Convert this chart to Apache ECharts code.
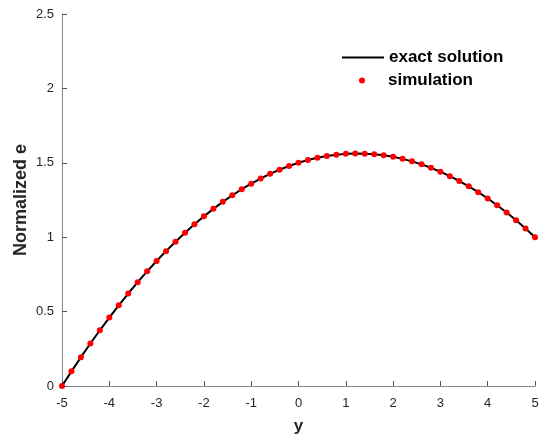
<!DOCTYPE html>
<html><head><meta charset="utf-8">
<script src="https://cdn.jsdelivr.net/npm/echarts@6/dist/echarts.min.js"></script>
<style>html,body{margin:0;padding:0;background:#fff}#c{width:540px;height:443px}</style>
</head><body><div id="c"></div>
<script>
var yPos = [-5,-4.8,-4.6,-4.4,-4.2,-4,-3.8,-3.6,-3.4,-3.2,-3,-2.8,-2.6,-2.4,-2.2,-2,-1.8,-1.6,-1.4,-1.2,-1,-0.8,-0.6,-0.4,-0.2,0,0.2,0.4,0.6,0.8,1,1.2,1.4,1.6,1.8,2,2.2,2.4,2.6,2.8,3,3.2,3.4,3.6,3.8,4,4.2,4.4,4.6,4.8,5];
var exactE = [0,0.0984,0.1936,0.2856,0.3744,0.46,0.5424,0.6216,0.6976,0.7704,0.84,0.9064,0.9696,1.0296,1.0864,1.14,1.1904,1.2376,1.2816,1.3224,1.36,1.3944,1.4256,1.4536,1.4784,1.5,1.5184,1.5336,1.5456,1.5544,1.56,1.5624,1.5616,1.5576,1.5504,1.54,1.5264,1.5096,1.4896,1.4664,1.44,1.4104,1.3776,1.3416,1.3024,1.26,1.2144,1.1656,1.1136,1.0584,1];
var simE = [0,0.0984,0.1936,0.2856,0.3744,0.46,0.5424,0.6216,0.6976,0.7704,0.84,0.9064,0.9696,1.0296,1.0864,1.14,1.1904,1.2376,1.2816,1.3224,1.36,1.3944,1.4256,1.4536,1.4784,1.5,1.5184,1.5336,1.5456,1.5544,1.56,1.5624,1.5616,1.5576,1.5504,1.54,1.5264,1.5096,1.4896,1.4664,1.44,1.4104,1.3776,1.3416,1.3024,1.26,1.2144,1.1656,1.1136,1.0584,1];
var xTicks = [-5,-4,-3,-2,-1,0,1,2,3,4,5];
var yTicks = [0,0.5,1,1.5,2,2.5];

function pairs(xs, ys){ return xs.map(function(x,i){ return [x, ys[i]]; }); }
var font = 'Liberation Sans, Arial, Helvetica, sans-serif';
var axisGray = '#868686';
var textCol = '#262626';
var legendText = {fontFamily: font, fontWeight: 'bold', fontSize: 17, color: '#000'};

var chart = echarts.init(document.getElementById('c'), null, {renderer:'canvas'});
chart.setOption({
  animation: false,
  backgroundColor: '#fff',
  grid: {left: 62, right: 5, top: 14, bottom: 57, containLabel: false, outerBoundsMode: 'none'},
  legend: [
    {left: 342, top: 49, itemWidth: 42, itemHeight: 2, itemGap: 0, padding: 0,
      textStyle: legendText,
      data: [{name: 'exact solution', icon: 'rect'}]},
    {left: 359, top: 72, itemWidth: 42, itemHeight: 6, itemGap: 0, padding: 0,
      textStyle: legendText,
      data: [{name: 'simulation', icon: 'circle'}]}
  ],
  xAxis: {
    type: 'value', min: -5, max: 5, interval: 1,
    name: 'y', nameLocation: 'middle', nameGap: 32, nameMoveOverlap: false,
    nameTextStyle: {fontFamily: font, fontWeight: 'bold', fontSize: 17, color: textCol},
    axisLine: {lineStyle: {color: axisGray, width: 1}},
    axisTick: {inside: true, length: 5, lineStyle: {color: '#555'}},
    axisLabel: {fontFamily: font, fontSize: 13, color: textCol, margin: 11,
      formatter: function(v){ return xTicks.indexOf(v) >= 0 ? String(v) : ''; }},
    splitLine: {show: false}
  },
  yAxis: {
    type: 'value', min: 0, max: 2.5, interval: 0.5,
    name: 'Normalized e', nameLocation: 'middle', nameGap: 32, nameMoveOverlap: false,
    nameTextStyle: {fontFamily: font, fontWeight: 'bold', fontSize: 18, color: textCol},
    axisLine: {show: true, onZero: false, lineStyle: {color: axisGray, width: 1}},
    axisTick: {show: true, inside: true, length: 5, lineStyle: {color: '#555'}},
    axisLabel: {fontFamily: font, fontSize: 13, color: textCol, margin: 8,
      formatter: function(v){ return yTicks.indexOf(v) >= 0 ? String(v) : ''; }},
    splitLine: {show: false}
  },
  series: [
    {name: 'exact solution', type: 'line', data: pairs(yPos, exactE), showSymbol: false, symbol: 'none',
      smooth: false, lineStyle: {color: '#000', width: 2}, itemStyle: {color: '#000'}, z: 2},
    {name: 'simulation', type: 'scatter', data: pairs(yPos, simE), symbol: 'circle', symbolSize: 6,
      itemStyle: {color: '#ff0000', opacity: 1}, z: 3}
  ]
});
</script></body></html>
